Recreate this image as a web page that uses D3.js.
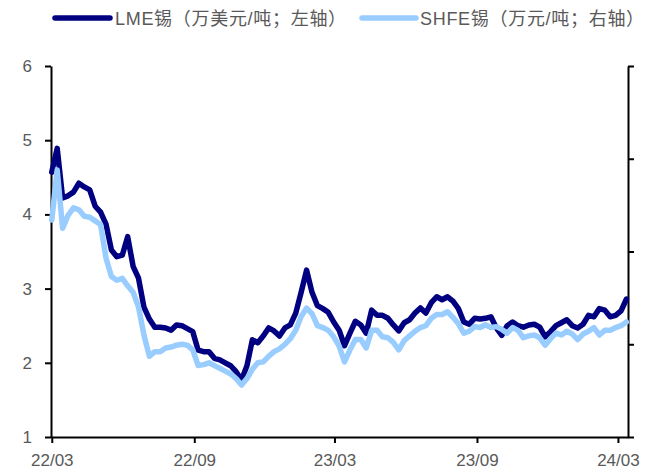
<!DOCTYPE html>
<html>
<head>
<meta charset="utf-8">
<script src="https://cdn.jsdelivr.net/npm/d3@7"></script>
<style>
  body { margin: 0; background: #fff; }
  svg { display: block; }
</style>
</head>
<body>
<svg id="chart" width="645" height="469"></svg>
<script>
// Weekly observation dates
const dates = [
  "2022-03-01","2022-03-08","2022-03-15","2022-03-22","2022-03-29","2022-04-05","2022-04-12","2022-04-19","2022-04-26","2022-05-03",
  "2022-05-10","2022-05-17","2022-05-24","2022-05-31","2022-06-07","2022-06-14","2022-06-21","2022-06-28","2022-07-05","2022-07-12",
  "2022-07-19","2022-07-26","2022-08-02","2022-08-09","2022-08-16","2022-08-23","2022-08-30","2022-09-06","2022-09-13","2022-09-20",
  "2022-09-27","2022-10-04","2022-10-11","2022-10-18","2022-10-25","2022-11-01","2022-11-08","2022-11-15","2022-11-22","2022-11-29",
  "2022-12-06","2022-12-13","2022-12-20","2022-12-27","2023-01-03","2023-01-10","2023-01-17","2023-01-24","2023-01-31","2023-02-07",
  "2023-02-14","2023-02-21","2023-02-28","2023-03-07","2023-03-14","2023-03-21","2023-03-28","2023-04-04","2023-04-11","2023-04-18",
  "2023-04-25","2023-05-02","2023-05-09","2023-05-16","2023-05-23","2023-05-30","2023-06-06","2023-06-13","2023-06-20","2023-06-27",
  "2023-07-04","2023-07-11","2023-07-18","2023-07-25","2023-08-01","2023-08-08","2023-08-15","2023-08-22","2023-08-29","2023-09-05",
  "2023-09-12","2023-09-19","2023-09-26","2023-10-03","2023-10-10","2023-10-17","2023-10-24","2023-10-31","2023-11-07","2023-11-14",
  "2023-11-21","2023-11-28","2023-12-05","2023-12-12","2023-12-19","2023-12-26","2024-01-02","2024-01-09","2024-01-16","2024-01-23",
  "2024-01-30","2024-02-06","2024-02-13","2024-02-20","2024-02-27","2024-03-05","2024-03-12"
];

// LME tin, 10k USD/t (left axis)
const lmeTin = [
  4.57,4.89,4.22,4.25,4.30,4.42,4.37,4.33,4.11,4.03,
  3.87,3.52,3.43,3.45,3.70,3.30,3.14,2.75,2.59,2.48,
  2.48,2.47,2.44,2.51,2.50,2.46,2.42,2.17,2.15,2.15,
  2.06,2.04,2.00,1.96,1.88,1.77,1.96,2.31,2.27,2.36,
  2.47,2.43,2.36,2.47,2.51,2.67,2.95,3.25,2.95,2.77,
  2.73,2.68,2.55,2.44,2.23,2.40,2.56,2.51,2.40,2.71,
  2.64,2.64,2.60,2.51,2.43,2.54,2.58,2.67,2.74,2.67,
  2.81,2.89,2.85,2.89,2.83,2.73,2.55,2.52,2.60,2.59,
  2.60,2.62,2.47,2.37,2.50,2.55,2.50,2.48,2.51,2.52,
  2.48,2.35,2.42,2.50,2.54,2.58,2.50,2.47,2.52,2.64,
  2.62,2.73,2.71,2.62,2.64,2.70,2.86
];

// SHFE tin, 10k CNY/t (right axis)
const shfeTin = [
  33.4,38.8,32.5,33.9,34.7,34.5,33.8,33.7,33.3,32.9,
  29.3,27.3,26.9,27.1,26.3,25.6,24.0,21.0,18.7,19.2,
  19.2,19.6,19.7,19.9,20.0,19.9,19.4,17.7,17.8,18.0,
  17.7,17.4,17.1,16.8,16.3,15.6,16.3,17.3,18.0,18.1,
  18.7,19.2,19.5,20.0,20.6,21.5,23.0,23.9,23.3,22.0,
  21.8,21.5,20.8,19.8,18.1,19.4,20.5,20.5,19.6,21.5,
  21.5,20.8,20.7,20.2,19.4,20.4,20.9,21.4,21.8,22.0,
  22.8,23.2,23.2,23.5,22.9,22.2,21.2,21.4,21.9,21.8,
  22.1,21.8,21.9,21.6,21.2,21.8,21.5,20.7,20.9,21.0,
  20.7,19.9,20.6,21.2,21.0,21.4,21.1,20.5,21.1,21.4,
  21.8,21.0,21.5,21.5,21.8,22.0,22.4
];

const leftTicks = [1, 2, 3, 4, 5, 6];
const rightTicks = [10, 20, 30, 40, 50];
const xTickDates = ["2022-03-01", "2022-09-01", "2023-03-01", "2023-09-01", "2024-03-01"];
const xTickLabels = ["22/03", "22/09", "23/03", "23/09", "24/03"];
const seriesNames = ["LME锡（万美元/吨；左轴）", "SHFE锡（万元/吨；右轴）"];
const seriesColors = ["#000080", "#99CCFF"];

const parse = d3.timeParse("%Y-%m-%d");
const plot = { left: 51, right: 628, top: 66, bottom: 437 };
const fontLatin = "'Liberation Sans', Arial, sans-serif";
const fontMixed = "'Liberation Sans', Arial, 'Noto Sans CJK SC', sans-serif";
const labelColor = "#595959";

const svg = d3.select("#chart");

const x = d3.scaleTime()
  .domain([parse("2022-02-28"), parse("2024-03-14")])
  .range([plot.left, plot.right]);
const yL = d3.scaleLinear().domain([1, 6]).range([plot.bottom, plot.top]);
const yR = d3.scaleLinear().domain([10, 50]).range([plot.bottom, plot.top]);

function styleAxis(g) {
  g.select(".domain").attr("stroke", "#000").attr("stroke-width", 2);
  g.selectAll(".tick line").attr("stroke", "#000").attr("stroke-width", 2);
  g.selectAll(".tick text")
    .attr("fill", labelColor)
    .style("font-family", fontLatin)
    .style("font-size", "17px");
}

// Left axis
svg.append("g")
  .attr("transform", `translate(${plot.left},0)`)
  .call(d3.axisLeft(yL).tickValues(leftTicks).tickSize(6).tickSizeOuter(0).tickPadding(13).tickFormat(d3.format("d")))
  .call(styleAxis);

// Right axis (ticks only)
svg.append("g")
  .attr("transform", `translate(${plot.right},0)`)
  .call(d3.axisRight(yR).tickValues(rightTicks).tickSize(6).tickSizeOuter(0).tickFormat(""))
  .call(styleAxis);

// Bottom axis
const xTicks = xTickDates.map(parse);
svg.append("g")
  .attr("transform", `translate(0,${plot.bottom})`)
  .call(d3.axisBottom(x).tickValues(xTicks).tickSize(6).tickSizeOuter(0).tickPadding(11)
    .tickFormat((d, i) => xTickLabels[i]))
  .call(styleAxis);

// Series lines (SHFE drawn last, on top)
const pts = dates.map(parse);
const lineL = d3.line().x((d, i) => x(pts[i])).y(d => yL(d));
const lineR = d3.line().x((d, i) => x(pts[i])).y(d => yR(d));

svg.append("path")
  .datum(lmeTin)
  .attr("d", lineL)
  .attr("fill", "none")
  .attr("stroke", seriesColors[0])
  .attr("stroke-width", 5.5)
  .attr("stroke-linejoin", "round")
  .attr("stroke-linecap", "round");

svg.append("path")
  .datum(shfeTin)
  .attr("d", lineR)
  .attr("fill", "none")
  .attr("stroke", seriesColors[1])
  .attr("stroke-width", 5.5)
  .attr("stroke-linejoin", "round")
  .attr("stroke-linecap", "round");

// Legend
const legendItems = [
  { x1: 55, x2: 110, tx: 115 },
  { x1: 362, x2: 416, tx: 420 }
];
legendItems.forEach((it, i) => {
  svg.append("line")
    .attr("x1", it.x1).attr("x2", it.x2)
    .attr("y1", 18).attr("y2", 18)
    .attr("stroke", seriesColors[i])
    .attr("stroke-width", 5.5)
    .attr("stroke-linecap", "round");
  svg.append("text")
    .attr("x", it.tx).attr("y", 25)
    .attr("fill", labelColor)
    .style("font-family", fontMixed)
    .style("font-size", "18px")
    .style("letter-spacing", "0.7px")
    .text(seriesNames[i]);
});
</script>
</body>
</html>
